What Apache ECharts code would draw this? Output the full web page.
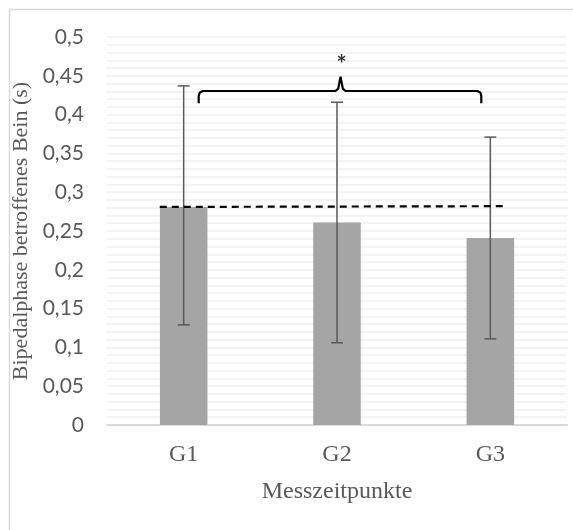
<!DOCTYPE html>
<html>
<head>
<meta charset="utf-8">
<script src="https://cdn.jsdelivr.net/npm/echarts@6/dist/echarts.min.js"></script>
<style>
html,body{margin:0;padding:0;background:#fff;}
#chart{width:573px;height:530px;}
</style>
</head>
<body>
<div id="chart"></div>
<script>
// ---- data ----
var categories = ['G1', 'G2', 'G3'];
var means = [0.281, 0.261, 0.241];
var errLow = [0.129, 0.106, 0.111];
var errHigh = [0.437, 0.416, 0.371];
// dashed reference line (x in category index units, y values)
var dashX = [-0.156, 2.11];
var dashY = [0.281, 0.282];
// significance bracket (x in category index units)
var bracketX = [0.098, 0.098, 0.105, 0.125, 0.99, 1.008, 1.023, 1.038, 1.056, 1.915, 1.935, 1.941, 1.941];
var bracketY = [0.4146, 0.424, 0.4285, 0.4304, 0.4304, 0.4335, 0.4488, 0.4335, 0.4304, 0.4304, 0.4285, 0.424, 0.4146];
var starPos = [1.03, 0.463];
var yTicks = { min: 0, max: 0.5, interval: 0.05 };

var chart = echarts.init(document.getElementById('chart'));
var serif = '"Liberation Serif", "DejaVu Serif", serif';
var sans = 'Lato, "Open Sans", sans-serif';

var option = {
  animation: false,
  backgroundColor: '#ffffff',
  graphic: [{
    type: 'rect', left: 7, top: 7, shape: { width: 600, height: 560 },
    style: { fill: 'none', stroke: '#d9d9d9', lineWidth: 1.5 }, silent: true, z: -10
  }],
  grid: { left: 107, right: 6, top: 37, bottom: 105 },
  xAxis: [{
    type: 'category', data: categories,
    axisLine: { lineStyle: { color: '#d9d9d9', width: 2 } },
    axisTick: { show: false },
    axisLabel: { color: '#595959', fontFamily: serif, fontSize: 24, margin: 18 },
    name: 'Messzeitpunkte', nameLocation: 'middle', nameGap: 55,
    nameTextStyle: { color: '#595959', fontFamily: serif, fontSize: 24 }
  }, {
    type: 'value', min: -0.5, max: 2.5, show: false
  }],
  yAxis: {
    type: 'value', min: yTicks.min, max: yTicks.max, interval: yTicks.interval,
    axisLine: { show: false }, axisTick: { show: false },
    axisLabel: { color: '#595959', fontFamily: sans, fontSize: 21, margin: 23,
      formatter: function (v) { return String(+v.toFixed(2)).replace('.', ','); } },
    splitLine: { show: true, lineStyle: { color: '#efefef', width: 1.5 } },
    minorTick: { show: false, splitNumber: 5 },
    minorSplitLine: { show: true, lineStyle: { color: '#efefef', width: 1.5 } },
    name: 'Bipedalphase betroffenes Bein (s)', nameLocation: 'middle', nameGap: 70,
    nameTextStyle: { color: '#595959', fontFamily: serif, fontSize: 22 }
  },
  series: [{
    type: 'bar', data: means, barWidth: '31%',
    itemStyle: { color: '#a5a5a5' }, z: 2
  }, {
    type: 'custom', xAxisIndex: 0, z: 4,
    data: categories.map(function (c, i) { return [i, errLow[i], errHigh[i]]; }),
    renderItem: function (params, api) {
      var lo = api.coord([api.value(0), api.value(1)]);
      var hi = api.coord([api.value(0), api.value(2)]);
      var hw = 6;
      var st = { stroke: '#595959', lineWidth: 1.5 };
      return { type: 'group', children: [
        { type: 'line', shape: { x1: lo[0], y1: lo[1], x2: hi[0], y2: hi[1] }, style: st },
        { type: 'line', shape: { x1: hi[0] - hw, y1: hi[1], x2: hi[0] + hw, y2: hi[1] }, style: st },
        { type: 'line', shape: { x1: lo[0] - hw, y1: lo[1], x2: lo[0] + hw, y2: lo[1] }, style: st }
      ]};
    }
  }, {
    type: 'line', xAxisIndex: 1, z: 5, symbol: 'none',
    data: dashX.map(function (x, i) { return [x, dashY[i]]; }),
    lineStyle: { color: '#000', width: 2.2, type: [7, 5] }
  }, {
    type: 'line', xAxisIndex: 1, z: 5, symbol: 'none',
    data: bracketX.map(function (x, i) { return [x, bracketY[i]]; }),
    lineStyle: { color: '#000', width: 2.2 }
  }, {
    type: 'scatter', xAxisIndex: 1, z: 5, symbolSize: 1,
    itemStyle: { color: 'rgba(0,0,0,0)' },
    data: [starPos],
    label: { show: true, position: 'inside', formatter: '*', color: '#000',
      fontFamily: sans, fontSize: 24, fontWeight: 'bold' }
  }]
};
chart.setOption(option);
</script>
</body>
</html>
